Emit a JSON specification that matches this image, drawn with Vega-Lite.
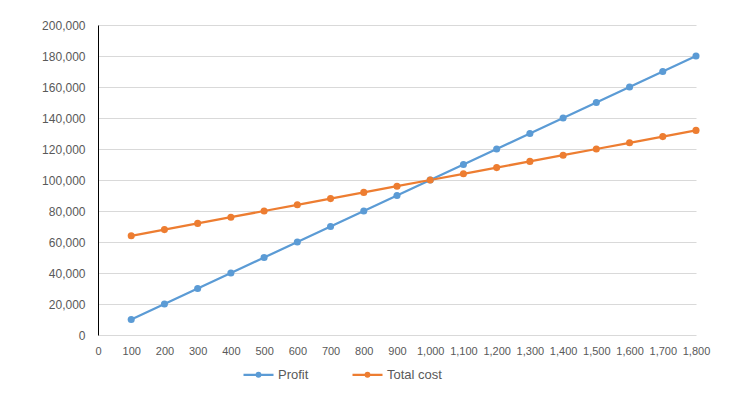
{
  "$schema": "https://vega.github.io/schema/vega-lite/v6.json",
  "width": 598,
  "height": 310,
  "autosize": {"type": "none"},
  "padding": {"left": 98, "top": 25, "right": 49, "bottom": 62},
  "background": "white",
  "config": {"view": {"stroke": null}, "font": "Liberation Sans"},
  "data": {"values": [
    {"units": 100, "series": "Profit", "value": 10000},
    {"units": 200, "series": "Profit", "value": 20000},
    {"units": 300, "series": "Profit", "value": 30000},
    {"units": 400, "series": "Profit", "value": 40000},
    {"units": 500, "series": "Profit", "value": 50000},
    {"units": 600, "series": "Profit", "value": 60000},
    {"units": 700, "series": "Profit", "value": 70000},
    {"units": 800, "series": "Profit", "value": 80000},
    {"units": 900, "series": "Profit", "value": 90000},
    {"units": 1000, "series": "Profit", "value": 100000},
    {"units": 1100, "series": "Profit", "value": 110000},
    {"units": 1200, "series": "Profit", "value": 120000},
    {"units": 1300, "series": "Profit", "value": 130000},
    {"units": 1400, "series": "Profit", "value": 140000},
    {"units": 1500, "series": "Profit", "value": 150000},
    {"units": 1600, "series": "Profit", "value": 160000},
    {"units": 1700, "series": "Profit", "value": 170000},
    {"units": 1800, "series": "Profit", "value": 180000},
    {"units": 100, "series": "Total cost", "value": 64000},
    {"units": 200, "series": "Total cost", "value": 68000},
    {"units": 300, "series": "Total cost", "value": 72000},
    {"units": 400, "series": "Total cost", "value": 76000},
    {"units": 500, "series": "Total cost", "value": 80000},
    {"units": 600, "series": "Total cost", "value": 84000},
    {"units": 700, "series": "Total cost", "value": 88000},
    {"units": 800, "series": "Total cost", "value": 92000},
    {"units": 900, "series": "Total cost", "value": 96000},
    {"units": 1000, "series": "Total cost", "value": 100000},
    {"units": 1100, "series": "Total cost", "value": 104000},
    {"units": 1200, "series": "Total cost", "value": 108000},
    {"units": 1300, "series": "Total cost", "value": 112000},
    {"units": 1400, "series": "Total cost", "value": 116000},
    {"units": 1500, "series": "Total cost", "value": 120000},
    {"units": 1600, "series": "Total cost", "value": 124000},
    {"units": 1700, "series": "Total cost", "value": 128000},
    {"units": 1800, "series": "Total cost", "value": 132000}
  ]},
  "mark": {"type": "line", "strokeWidth": 2.25, "point": {"size": 50, "filled": true}},
  "encoding": {
    "x": {
      "field": "units", "type": "quantitative",
      "scale": {"domain": [0, 1800], "nice": false, "zero": true},
      "axis": {
        "values": [0, 100, 200, 300, 400, 500, 600, 700, 800, 900, 1000, 1100, 1200, 1300, 1400, 1500, 1600, 1700, 1800],
        "format": ",.0f", "grid": false, "domain": false, "ticks": false,
        "labelPadding": 10, "labelFontSize": 11, "labelColor": "#595959",
        "labelOverlap": false, "labelFlush": false, "title": null
      }
    },
    "y": {
      "field": "value", "type": "quantitative",
      "scale": {"domain": [0, 200000], "nice": false},
      "axis": {
        "values": [0, 20000, 40000, 60000, 80000, 100000, 120000, 140000, 160000, 180000, 200000],
        "format": ",.0f", "gridColor": "#D9D9D9", "gridWidth": 1,
        "domainColor": "#000000", "domainWidth": 1, "ticks": false,
        "labelPadding": 13, "labelFontSize": 12, "labelColor": "#595959", "title": null
      }
    },
    "color": {
      "field": "series", "type": "nominal",
      "scale": {"domain": ["Profit", "Total cost"], "range": ["#5B9BD5", "#ED7D31"]},
      "legend": {
        "title": null, "orient": "none", "direction": "horizontal",
        "legendX": 149, "legendY": 338,
        "symbolType": "M-1.5,0L1.5,0M-0.18,0A0.18,0.18,0,1,1,0.18,0A0.18,0.18,0,1,1,-0.18,0",
        "symbolSize": 400, "symbolStrokeWidth": 2.25,
        "labelFontSize": 13, "labelColor": "#595959", "labelOffset": 8,
        "columnPadding": 39, "padding": 0
      }
    }
  }
}
